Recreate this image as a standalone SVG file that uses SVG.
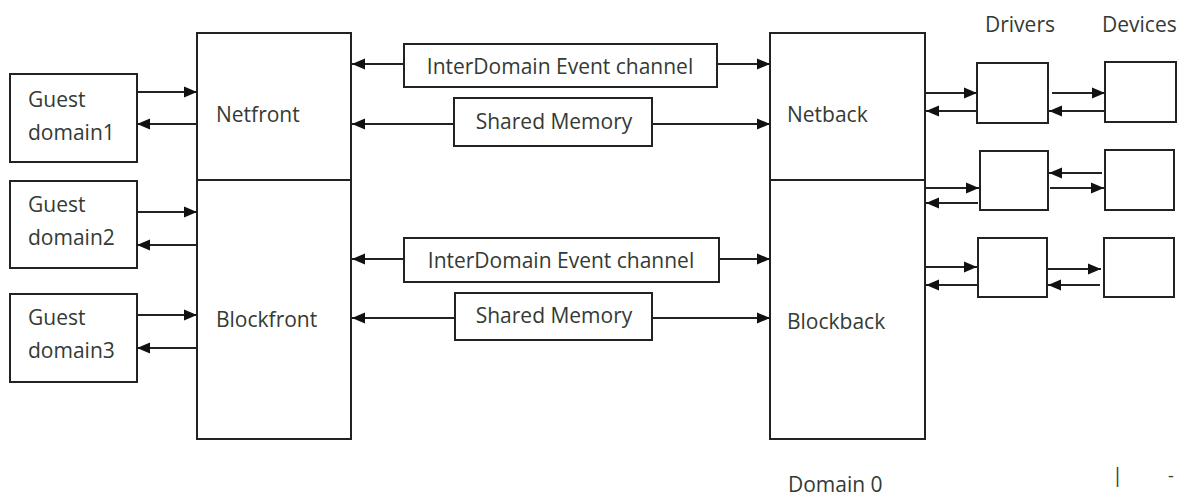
<svg xmlns="http://www.w3.org/2000/svg" width="1187" height="497" viewBox="0 0 1187 497">
  <style>
    .box { fill: #fff; stroke: #222; stroke-width: 2; }
    .wire { stroke: #222; stroke-width: 2; fill: none; marker-end: url(#head); }
    .lbl { font-family: "Open Sans", "Liberation Sans", sans-serif; font-size: 21px; fill: #343a34; }
  </style>
  <defs>
    <marker id="head" markerUnits="userSpaceOnUse" markerWidth="16" markerHeight="14" refX="13" refY="7" orient="auto">
      <path d="M0,1.5 L13,7 L0,12.5 Z" fill="#111"/>
    </marker>
  </defs>
  <rect width="1187" height="497" fill="#fff"/>

  <!-- guest domains -->
  <g id="guest1">
    <rect class="box" x="10" y="74" width="127" height="88"/>
    <text class="lbl" x="28" y="107">Guest</text>
    <text class="lbl" x="28" y="140">domain1</text>
  </g>
  <g id="guest2">
    <rect class="box" x="10" y="181" width="127" height="87"/>
    <text class="lbl" x="28" y="212">Guest</text>
    <text class="lbl" x="28" y="245">domain2</text>
  </g>
  <g id="guest3">
    <rect class="box" x="10" y="294" width="127" height="88"/>
    <text class="lbl" x="28" y="325">Guest</text>
    <text class="lbl" x="28" y="358">domain3</text>
  </g>

  <!-- front-end drivers -->
  <g id="netfront">
    <rect class="box" x="197" y="33" width="154" height="147"/>
    <text class="lbl" x="216" y="122">Netfront</text>
  </g>
  <g id="blockfront">
    <rect class="box" x="197" y="180" width="154" height="259"/>
    <text class="lbl" x="216" y="327">Blockfront</text>
  </g>

  <!-- channels -->
  <g id="event1">
    <rect class="box" x="404" y="44" width="313" height="43"/>
    <text class="lbl" x="560" y="74" text-anchor="middle">InterDomain Event channel</text>
  </g>
  <g id="shm1">
    <rect class="box" x="454" y="98" width="198" height="48"/>
    <text class="lbl" x="554" y="129" text-anchor="middle">Shared Memory</text>
  </g>
  <g id="event2">
    <rect class="box" x="404" y="238" width="315" height="44"/>
    <text class="lbl" x="561" y="268" text-anchor="middle">InterDomain Event channel</text>
  </g>
  <g id="shm2">
    <rect class="box" x="455" y="293" width="197" height="47"/>
    <text class="lbl" x="554" y="323" text-anchor="middle">Shared Memory</text>
  </g>

  <!-- back-end drivers -->
  <g id="netback">
    <rect class="box" x="770" y="33" width="155" height="147"/>
    <text class="lbl" x="787" y="122">Netback</text>
  </g>
  <g id="blockback">
    <rect class="box" x="770" y="180" width="155" height="259"/>
    <text class="lbl" x="787" y="329">Blockback</text>
  </g>

  <!-- drivers and devices -->
  <g id="drivers-label"><text class="lbl" x="985" y="32">Drivers</text></g>
  <g id="devices-label"><text class="lbl" x="1102" y="32">Devices</text></g>
  <g id="driver1"><rect class="box" x="977" y="63" width="71" height="60"/></g>
  <g id="device1"><rect class="box" x="1105" y="62" width="71" height="60"/></g>
  <g id="driver2"><rect class="box" x="980" y="151" width="68" height="59"/></g>
  <g id="device2"><rect class="box" x="1105" y="150" width="69" height="60"/></g>
  <g id="driver3"><rect class="box" x="978" y="238" width="69" height="59"/></g>
  <g id="device3"><rect class="box" x="1104" y="238" width="70" height="59"/></g>

  <g id="domain0-label"><text class="lbl" x="788" y="492">Domain 0</text></g>
  <g id="marks">
    <text class="lbl" x="1112" y="482" style="font-size:20px">|</text>
    <text class="lbl" x="1168" y="482" style="font-size:18px">-</text>
  </g>

  <!-- connectors -->
  <g id="connectors">
    <line class="wire" x1="137" y1="92" x2="197" y2="92"/>
    <line class="wire" x1="197" y1="124" x2="137" y2="124"/>
    <line class="wire" x1="137" y1="212" x2="197" y2="212"/>
    <line class="wire" x1="197" y1="245" x2="137" y2="245"/>
    <line class="wire" x1="137" y1="315" x2="197" y2="315"/>
    <line class="wire" x1="197" y1="348" x2="137" y2="348"/>

    <line class="wire" x1="404" y1="64" x2="352" y2="64"/>
    <line class="wire" x1="717" y1="64" x2="770" y2="64"/>
    <line class="wire" x1="454" y1="124" x2="352" y2="124"/>
    <line class="wire" x1="652" y1="124" x2="770" y2="124"/>
    <line class="wire" x1="404" y1="259" x2="352" y2="259"/>
    <line class="wire" x1="719" y1="259" x2="770" y2="259"/>
    <line class="wire" x1="455" y1="318" x2="352" y2="318"/>
    <line class="wire" x1="652" y1="318" x2="770" y2="318"/>

    <line class="wire" x1="926" y1="93" x2="977" y2="93"/>
    <line class="wire" x1="977" y1="111" x2="926" y2="111"/>
    <line class="wire" x1="1052" y1="93" x2="1105" y2="93"/>
    <line class="wire" x1="1105" y1="111" x2="1049" y2="111"/>

    <line class="wire" x1="926" y1="188" x2="979" y2="188"/>
    <line class="wire" x1="978" y1="203" x2="926" y2="203"/>
    <line class="wire" x1="1102" y1="173" x2="1049" y2="173"/>
    <line class="wire" x1="1050" y1="188" x2="1104" y2="188"/>

    <line class="wire" x1="926" y1="267" x2="977" y2="267"/>
    <line class="wire" x1="977" y1="285" x2="926" y2="285"/>
    <line class="wire" x1="1047" y1="269" x2="1101" y2="269"/>
    <line class="wire" x1="1100" y1="285" x2="1048" y2="285"/>
  </g>
</svg>
